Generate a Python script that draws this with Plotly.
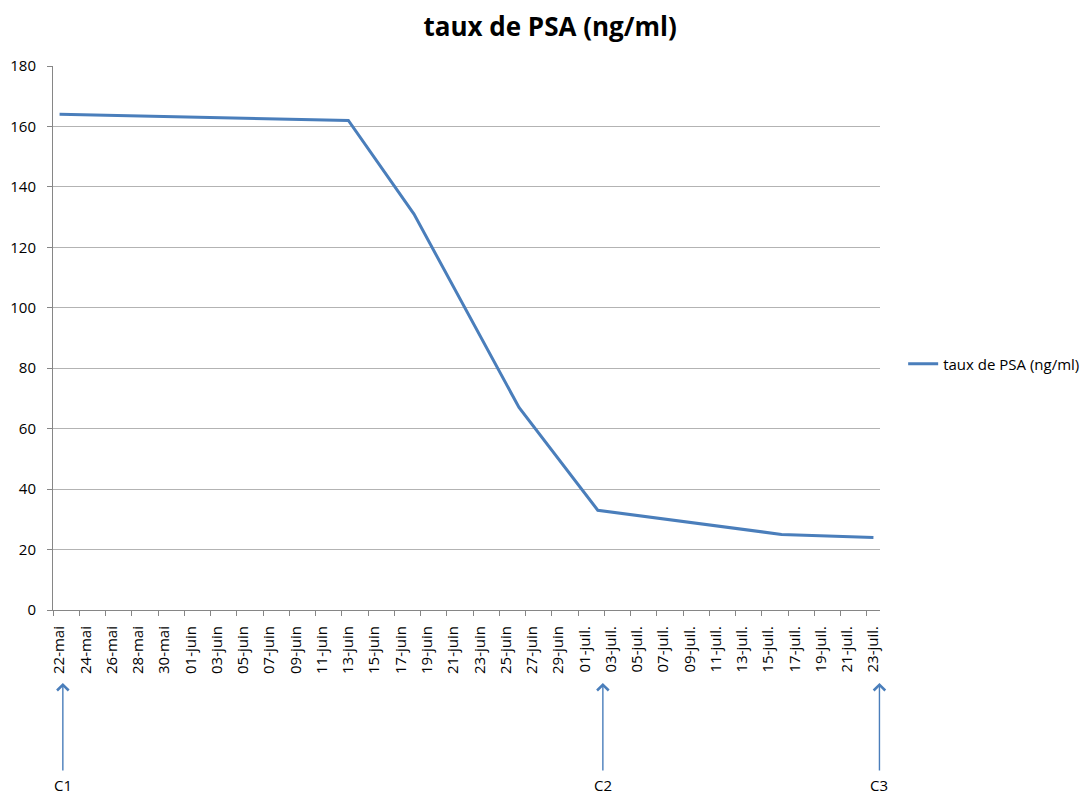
import pandas as pd
import plotly.graph_objects as go

# Data
dates = ["2013-05-22", "2013-06-13", "2013-06-18", "2013-06-26",
         "2013-07-02", "2013-07-16", "2013-07-23"]
psa = [164, 162, 131, 67, 33, 25, 24]
series_name = "taux de PSA (ng/ml)"

tick_labels = ["22-mai", "24-mai", "26-mai", "28-mai", "30-mai",
               "01-juin", "03-juin", "05-juin", "07-juin", "09-juin", "11-juin",
               "13-juin", "15-juin", "17-juin", "19-juin", "21-juin", "23-juin",
               "25-juin", "27-juin", "29-juin",
               "01-juil.", "03-juil.", "05-juil.", "07-juil.", "09-juil.",
               "11-juil.", "13-juil.", "15-juil.", "17-juil.", "19-juil.",
               "21-juil.", "23-juil."]
tick_dates = pd.date_range("2013-05-22", periods=len(tick_labels), freq="2D")

cure_labels = ["C1", "C2", "C3"]
cure_dates = ["2013-05-22 06:00", "2013-07-02 09:20", "2013-07-23 11:00"]

FONT = "Open Sans"
line_blue = "#4A7EBB"

fig = go.Figure()
fig.add_trace(go.Scatter(
    x=pd.to_datetime(dates), y=psa, mode="lines", name=series_name,
    line=dict(color=line_blue, width=3),
))

for lab, d in zip(cure_labels, cure_dates):
    fig.add_annotation(
        x=d, y=-0.134, xref="x", yref="paper",
        text=lab, showarrow=True, ax=0, ay=102,
        arrowhead=4, arrowsize=1.6, arrowwidth=1.4, arrowcolor=line_blue,
        startstandoff=4, borderpad=0,
        font=dict(family=FONT, size=15, color="#000000"),
    )

fig.update_layout(
    width=1085, height=796,
    margin=dict(l=53, r=205, t=66, b=186, autoexpand=False),
    paper_bgcolor="white", plot_bgcolor="white",
    font=dict(family=FONT, size=14, color="#000000"),
    title=dict(text="<b>taux de PSA (ng/ml)</b>", x=0.507, xanchor="center",
               y=0.966, yanchor="middle", yref="container",
               font=dict(family=FONT, size=26, color="#000000")),
    showlegend=True,
    legend=dict(x=1.028, xanchor="left", y=0.452, yanchor="middle",
                font=dict(family=FONT, size=15, color="#000000"),
                bgcolor="rgba(0,0,0,0)"),
    xaxis=dict(
        type="date", automargin=False,
        range=["2013-05-21 12:00", "2013-07-23 12:00"],
        tickmode="array", tickvals=tick_dates, ticktext=tick_labels,
        tickangle=-90, ticks="", showgrid=False,
        showline=True, linecolor="#868686", linewidth=1,
        ticklabelstandoff=9,
        tickfont=dict(family=FONT, size=15, color="#000000"),
        minor=dict(ticks="outside", tick0="2013-05-21 12:00",
                   dtick=2 * 86400000, ticklen=5, tickcolor="#868686",
                   showgrid=False),
        fixedrange=True,
    ),
    yaxis=dict(
        automargin=False,
        range=[0, 180], dtick=20, tick0=0,
        showgrid=True, gridcolor="#B3B3B3", gridwidth=1,
        showline=True, linecolor="#868686", linewidth=1,
        ticks="outside", ticklen=5, tickcolor="#868686",
        ticklabelstandoff=8,
        tickfont=dict(family=FONT, size=15, color="#000000"),
        zeroline=False,
    ),
)

fig.write_html("out.html",
               config={"displayModeBar": False},
               post_script="document.body.style.margin='0';")
